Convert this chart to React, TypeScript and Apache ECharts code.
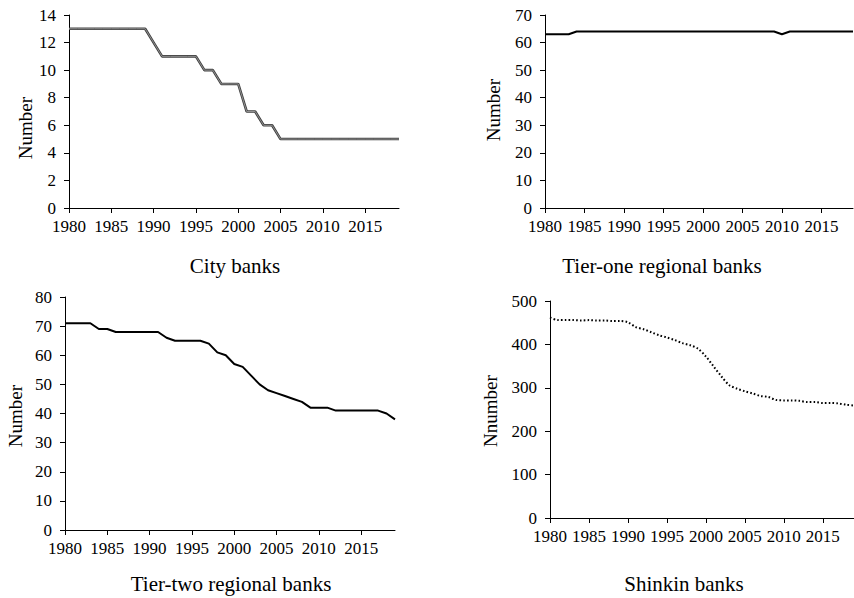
import React, { useEffect, useRef } from "react";
import * as echarts from "echarts";

const years = [
  "1980", "1981", "1982", "1983", "1984", "1985", "1986", "1987", "1988", "1989",
  "1990", "1991", "1992", "1993", "1994", "1995", "1996", "1997", "1998", "1999",
  "2000", "2001", "2002", "2003", "2004", "2005", "2006", "2007", "2008", "2009",
  "2010", "2011", "2012", "2013", "2014", "2015", "2016", "2017", "2018", "2019",
];

const cityBanks = [
  13, 13, 13, 13, 13, 13, 13, 13, 13, 13,
  12, 11, 11, 11, 11, 11, 10, 10, 9, 9,
  9, 7, 7, 6, 6, 5, 5, 5, 5, 5,
  5, 5, 5, 5, 5, 5, 5, 5, 5, 5,
];

const tierOne = [
  63, 63, 63, 63, 64, 64, 64, 64, 64, 64,
  64, 64, 64, 64, 64, 64, 64, 64, 64, 64,
  64, 64, 64, 64, 64, 64, 64, 64, 64, 64,
  63, 64, 64, 64, 64, 64, 64, 64, 64, 64,
];

const tierTwo = [
  71, 71, 71, 71, 69, 69, 68, 68, 68, 68,
  68, 68, 66, 65, 65, 65, 65, 64, 61, 60,
  57, 56, 53, 50, 48, 47, 46, 45, 44, 42,
  42, 42, 41, 41, 41, 41, 41, 41, 40, 38,
];

const shinkin = [
  462, 456, 456, 456, 455, 456, 455, 455, 454, 454,
  451, 440, 435, 428, 421, 416, 410, 403, 398, 390,
  372, 349, 326, 306, 298, 292, 287, 281, 279, 272,
  271, 271, 270, 267, 267, 265, 265, 264, 261, 259,
];

const panelTitles = ["City banks", "Tier-one regional banks", "Tier-two regional banks", "Shinkin banks"];
const axisNames = ["Number", "Number", "Number", "Nnumber"];
const yMax = [14, 70, 80, 500];
const yInterval = [2, 10, 10, 100];

const FONT = "Liberation Serif";
const TICK_FONT_SIZE = 17;

export default function App() {
  const ref = useRef<HTMLDivElement>(null);

  useEffect(() => {
    document.body.style.margin = "0";
    if (!ref.current) return;
    const chart = echarts.init(ref.current, null, { renderer: "svg" });

    const grids = [
      { left: 69, top: 15, width: 330, height: 193 },
      { left: 545, top: 15, width: 308, height: 193 },
      { left: 65, top: 297, width: 330, height: 233 },
      { left: 550, top: 301, width: 306, height: 217 },
    ];

    const tickInterval = (idx: number) => idx % 5 === 0;

    const tickText = {
      color: "#000",
      fontFamily: FONT,
      fontSize: TICK_FONT_SIZE,
      fontStyle: "normal",
      fontWeight: "normal",
    };

    const xAxes = grids.map((_, i) => ({
      type: "category",
      gridIndex: i,
      data: years,
      boundaryGap: false,
      axisLine: { lineStyle: { color: "#000", width: 1 } },
      axisTick: { show: true, interval: (idx: number) => tickInterval(idx), length: 5, lineStyle: { color: "#000" } },
      axisLabel: {
        ...tickText,
        interval: (idx: number) => tickInterval(idx),
        margin: 10,
        textStyle: tickText,
      },
      splitLine: { show: false },
    }));

    const yAxes = grids.map((_, i) => ({
      type: "value",
      gridIndex: i,
      min: 0,
      max: yMax[i],
      interval: yInterval[i],
      axisLine: { show: true, lineStyle: { color: "#000", width: 1 } },
      axisTick: { show: true, length: 5, lineStyle: { color: "#000" } },
      axisLabel: {
        ...tickText,
        margin: 13,
        textStyle: tickText,
      },
      splitLine: { show: false },
    }));

    const series: any[] = [
      {
        type: "line",
        xAxisIndex: 0,
        yAxisIndex: 0,
        data: cityBanks,
        symbol: "none",
        lineStyle: { color: "#404040", width: 2.6 },
        z: 2,
      },
      {
        type: "line",
        xAxisIndex: 0,
        yAxisIndex: 0,
        data: cityBanks,
        symbol: "none",
        lineStyle: { color: "#9a9a9a", width: 0.9 },
        z: 3,
      },
      {
        type: "line",
        xAxisIndex: 1,
        yAxisIndex: 1,
        data: tierOne,
        symbol: "none",
        lineStyle: { color: "#000", width: 2 },
      },
      {
        type: "line",
        xAxisIndex: 2,
        yAxisIndex: 2,
        data: tierTwo,
        symbol: "none",
        lineStyle: { color: "#000", width: 2 },
      },
      {
        type: "line",
        xAxisIndex: 3,
        yAxisIndex: 3,
        data: shinkin,
        symbol: "none",
        smooth: 0.3,
        lineStyle: { color: "#000", width: 2, type: [1.6, 2.2] },
      },
    ];

    const titlePos = [
      [235, 266],
      [662, 266],
      [231, 584],
      [684, 584],
    ];
    const namePos = [
      [25, 128],
      [493, 110],
      [15, 416],
      [490, 411],
    ];

    const graphic: any[] = [];
    panelTitles.forEach((t, i) => {
      graphic.push({
        type: "text",
        x: titlePos[i][0],
        y: titlePos[i][1],
        style: {
          text: t,
          fill: "#000",
          fontSize: 21,
          fontFamily: FONT,
          align: "center",
          verticalAlign: "middle",
        },
      });
    });
    axisNames.forEach((t, i) => {
      graphic.push({
        type: "text",
        x: namePos[i][0],
        y: namePos[i][1],
        rotation: Math.PI / 2,
        style: {
          text: t,
          fill: "#000",
          fontSize: 19,
          fontFamily: FONT,
          align: "center",
          verticalAlign: "middle",
        },
      });
    });

    chart.setOption({
      animation: false,
      backgroundColor: "#fff",
      textStyle: { fontFamily: FONT, fontSize: TICK_FONT_SIZE },
      grid: grids,
      xAxis: xAxes,
      yAxis: yAxes,
      series,
      graphic,
    });

    return () => chart.dispose();
  }, []);

  return (
    <div
      ref={ref}
      style={{ position: "absolute", left: 0, top: 0, width: 854, height: 598, background: "#fff" }}
    />
  );
}
